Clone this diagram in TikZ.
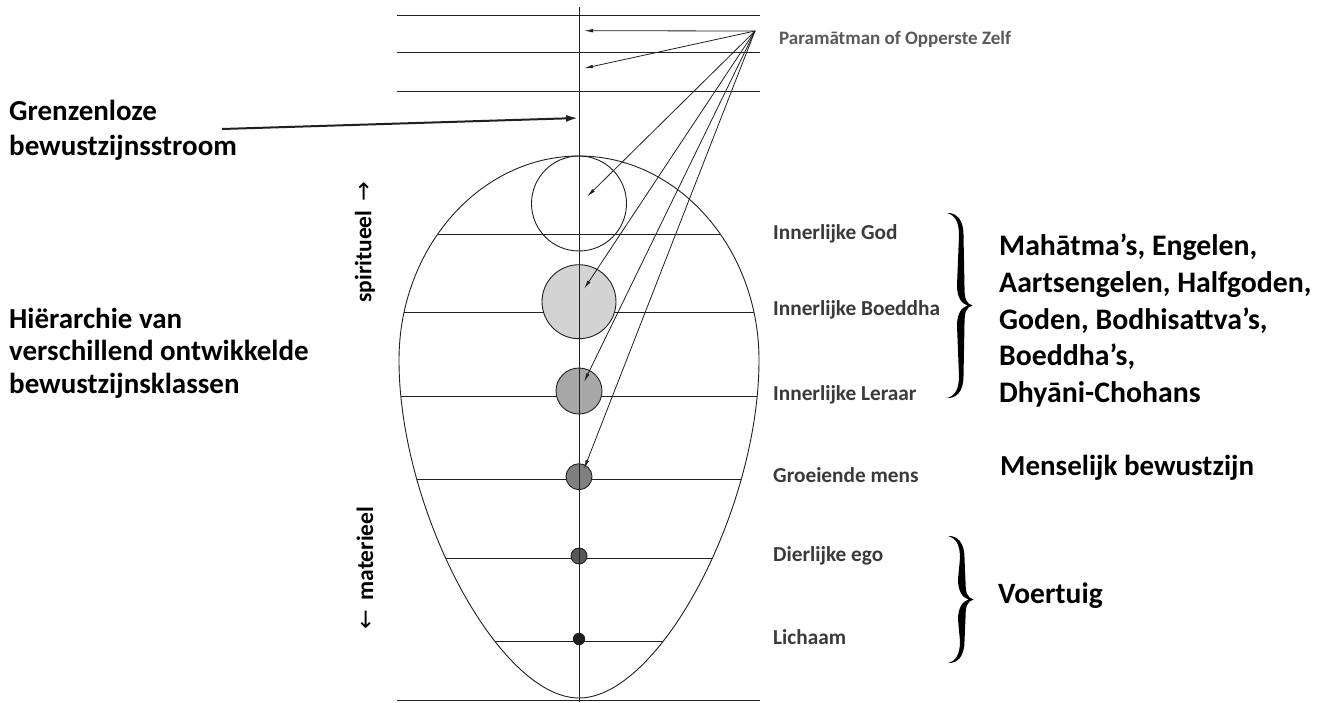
\documentclass[tikz,border=0pt]{standalone}
\usepackage{fontspec}
\setmainfont{Carlito}
\newfontfamily\arrowfont{DejaVu Sans}
\usetikzlibrary{arrows.meta}
\definecolor{ink}{HTML}{231F20}
\definecolor{labelgray}{HTML}{3A3A3A}
\definecolor{paragray}{HTML}{595959}
\definecolor{fillA}{HTML}{D3D3D3}
\definecolor{fillB}{HTML}{A7A7A7}
\definecolor{fillC}{HTML}{7F7F7F}
\definecolor{fillD}{HTML}{58585A}
\definecolor{fillE}{HTML}{231F20}
\newcommand{\drawbrace}[3]{%
  \pgfmathsetmacro{\brx}{#1}\pgfmathsetmacro{\brt}{#2}%
  \pgfmathsetmacro{\brb}{#3}\pgfmathsetmacro{\brm}{(#2+#3)/2}%
  \fill[black] (\brx,\brt)
    .. controls (\brx+9,\brt-0.5) and (\brx+16.5,\brt+6) .. (\brx+16.5,\brt+22)
    -- (\brx+17.5,\brm-18)
    .. controls (\brx+17.5,\brm-7) and (\brx+19,\brm-2) .. (\brx+25.5,\brm)
    .. controls (\brx+19,\brm+2) and (\brx+17.5,\brm+7) .. (\brx+17.5,\brm+18)
    -- (\brx+16.5,\brb-22)
    .. controls (\brx+16.5,\brb-6) and (\brx+9,\brb+0.5) .. (\brx,\brb)
    .. controls (\brx+7.5,\brb-2) and (\brx+12,\brb-8) .. (\brx+12,\brb-22)
    -- (\brx+10,\brm+20)
    .. controls (\brx+10,\brm+8) and (\brx+14.5,\brm+2) .. (\brx+20.5,\brm)
    .. controls (\brx+14.5,\brm-2) and (\brx+10,\brm-8) .. (\brx+10,\brm-20)
    -- (\brx+12,\brt+22)
    .. controls (\brx+12,\brt+8) and (\brx+7.5,\brt+2) .. (\brx,\brt) -- cycle;}
\begin{document}
\begin{tikzpicture}[x=1pt,y=-1pt,
  line/.style={draw=ink,line width=0.9pt},
  ptr/.style={draw=ink,line width=0.8pt,-{Latex[length=9pt,width=3.5pt]}},
  bigptr/.style={draw=ink,line width=2pt,-{Latex[length=12pt,width=7pt]}},
  dot/.style={circle,draw=ink,line width=0.9pt,inner sep=0pt},
  lbl/.style={anchor=base west,inner sep=0pt,text=labelgray,font=\fontsize{21.3}{25}\selectfont\bfseries},
  big/.style={anchor=base west,inner sep=0pt,align=left,text=black,font=\fontsize{29.8}{36.7}\selectfont\bfseries},
  side/.style={inner sep=0pt,rotate=90,text=black,font=\fontsize{23.5}{28}\selectfont\bfseries}]
\useasboundingbox (0,0) rectangle (1317,702);
\fill[white] (0,0) rectangle (1317,702);

% egg shape with inner lines
\def\eggpath{(579,156) .. controls (678,156) and (759,248) .. (759,360)
  .. controls (759,510) and (659,698) .. (579,698)
  .. controls (499,698) and (399,510) .. (399,360)
  .. controls (399,248) and (480,156) .. (579,156) -- cycle}
\begin{scope}
  \clip \eggpath;
  \foreach \yy in {234,312,396,479,558,641}
    \draw[line] (380,\yy) -- (780,\yy);
\end{scope}
\draw[line] \eggpath;

% top and bottom horizontal lines
\foreach \yy in {15.3,52.7,91.3,700}
  \draw[line] (397,\yy) -- (760,\yy);

% axis
\coordinate (axtop) at (579,7);
\coordinate (axbot) at (579,702);
\draw[line] (axtop) -- (axbot);

% circles
\node[dot,minimum size=95pt] (c1) at (579,203.5) {};
\node[dot,fill=fillA,minimum size=74pt] (c2) at (579,301.7) {};
\node[dot,fill=fillB,minimum size=46pt] (c3) at (579,391) {};
\node[dot,fill=fillC,minimum size=26pt] (c4) at (579,476.7) {};
\node[dot,fill=fillD,minimum size=16pt] (c5) at (579,556) {};
\node[dot,fill=fillE,minimum size=11.5pt] (c6) at (579,639) {};
\draw[line] (579,150) -- (579,700);

% pointer arrows
\coordinate (apex) at (755,31);
\coordinate (t1) at (584,30.7);
\coordinate (t2) at (584,68.3);
\coordinate (t3) at (587,196.7);
\coordinate (t4) at (584,289);
\coordinate (t5) at (584,382);
\coordinate (t6) at (584,469);
\foreach \t in {t1,t2,t3,t4,t5,t6}
  \draw[ptr] (apex) -- (\t);

% big arrow
\coordinate (gstart) at (222,129);
\coordinate (gend) at (578,118);
\draw[bigptr] (gstart) -- (gend);

% texts
\node[anchor=base west,inner sep=0pt,text=paragray,font=\fontsize{19}{23}\selectfont\bfseries] (para) at (779,44) {Paramātman of Opperste Zelf};
\node[big,font=\fontsize{29}{34.3}\selectfont\bfseries] (gren) at (9,155) {Grenzenloze\\bewustzijnsstroom};
\node[big,font=\fontsize{29}{32.7}\selectfont\bfseries] (hier) at (9,393.5) {Hiërarchie van\\verschillend ontwikkelde\\bewustzijnsklassen};
\node[side] (spir) at (365,242) {spiritueel \,{\arrowfont\mdseries→}};
\node[side] (mat) at (365,568) {{\arrowfont\mdseries←}\, materieel};

\node[lbl] (lgod) at (773,239.3) {Innerlijke God};
\node[lbl] (lboe) at (773,315) {Innerlijke Boeddha};
\node[lbl] (ller) at (773,400) {Innerlijke Leraar};
\node[lbl] (lgro) at (773,482) {Groeiende mens};
\node[lbl] (ldie) at (773,561.7) {Dierlijke ego};
\node[lbl] (llic) at (773,644) {Lichaam};

\drawbrace{947}{213}{398}
\drawbrace{948}{536}{663}

\node[big] (maha) at (999,402.5) {Mahātma’s, Engelen,\\Aartsengelen, Halfgoden,\\Goden, Bodhisattva’s,\\Boeddha’s,\\Dhyāni-Chohans};
\node[big,font=\fontsize{29}{34}\selectfont\bfseries] (mens) at (1000,475) {Menselijk bewustzijn};
\node[big,font=\fontsize{29.5}{34}\selectfont\bfseries] (voer) at (998,603) {Voertuig};
\end{tikzpicture}
\end{document}
